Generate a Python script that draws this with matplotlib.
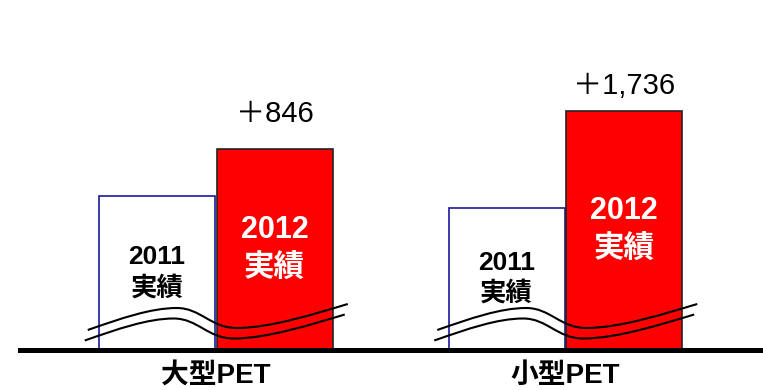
import matplotlib.pyplot as plt
from matplotlib.path import Path
from matplotlib.patches import PathPatch

plt.rcParams['font.family'] = ['Liberation Sans', 'Noto Sans CJK JP', 'DejaVu Sans']

categories = ["大型PET", "小型PET"]
vals_2011 = [2760, 2550]
increase = [846, 1736]
vals_2012 = [a + d for a, d in zip(vals_2011, increase)]
inc_labels = ["＋846", "＋1,736"]
bar_text_2011 = "2011\n実績"
bar_text_2012 = "2012\n実績"

# scale: one pixel in data units
PX_Y = 18.0
PX_X = 1 / 349.5

fig = plt.figure(figsize=(7.63, 3.90), dpi=100)
ax = fig.add_axes([0, 0, 1, 1])
ax.set_xlim(-215.75 * PX_X, (763 - 215.75) * PX_X)
ax.set_ylim(-40.5 * PX_Y, 349.5 * PX_Y)
ax.axis('off')

x = list(range(len(categories)))
w = 116 * PX_X
off = 58.75 * PX_X

ax.bar([i - off for i in x], vals_2011, width=w, color='white',
       edgecolor='#1a1a99', linewidth=1.2, zorder=2)
ax.bar([i + off for i in x], vals_2012, width=w, color='#ff0000',
       edgecolor='#222222', linewidth=1.2, zorder=2)

for i in x:
    ax.text(i - off, vals_2011[i] / 2, bar_text_2011, ha='center', va='center',
            fontsize=19, fontweight='bold', color='black', linespacing=1.3, zorder=4)
    ax.text(i + off, vals_2012[i] / 2, bar_text_2012, ha='center', va='center',
            fontsize=22, fontweight='bold', color='white', linespacing=1.38, zorder=4)
    ax.text(i, -26.5 * PX_Y, categories[i], ha='center', va='center',
            fontsize=20, fontweight='bold', color='black')

# increase labels above the red bars
label_gap = [25, 18]
for i in x:
    ax.annotate(inc_labels[i], (i + off, vals_2012[i]), xytext=(0, label_gap[i]),
                textcoords='offset points', ha='center', va='center',
                fontsize=21, color='black')

# wavy break marks across each pair of bars
def break_path(cx, dx, dy):
    pts = [(-128, 19.5), (-95, 31), (-65, 41.5), (-39, 41.5),
           (-15, 41.5), (-5, 21.5), (21, 21.5),
           (55, 21.5), (100, 36), (132, 45.5)]
    verts = [(cx + (px + dx) * PX_X, (py + dy) * PX_Y) for px, py in pts]
    codes = [Path.MOVETO] + [Path.CURVE4] * 9
    return Path(verts, codes)

for i in x:
    for dx, dy in [(0, 0), (-3, -10.5)]:
        ax.add_patch(PathPatch(break_path(i, dx, dy), fill=False,
                               edgecolor='black', linewidth=1.5, zorder=3))

ax.axhline(0, xmin=20 / 763, xmax=1, color='black', linewidth=3.6, zorder=5)

fig.savefig('out.png', dpi=100)
